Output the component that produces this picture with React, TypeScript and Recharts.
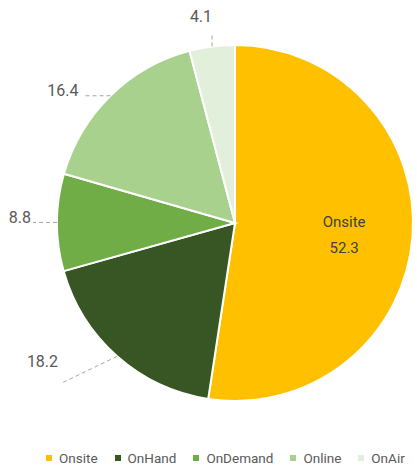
import React from 'react';
import { PieChart, Pie, Cell, Legend } from 'recharts';

const categories = ['Onsite', 'OnHand', 'OnDemand', 'Online', 'OnAir'];
const values = [52.3, 18.2, 8.8, 16.4, 4.1];
const colors = ['#FFC000', '#375623', '#70AD47', '#A9D18E', '#E2EFDA'];

const data = categories.map((name, i) => ({ name, value: values[i] }));

const RADIAN = Math.PI / 180;
const FONT = 'Roboto, "Noto Sans", sans-serif';

// leader line offsets for outside labels (by slice index)
const leaders: Record<number, { dx: number; dy: number; tx: number; ty: number }> = {
  1: { dx: -54, dy: 26, tx: -5, ty: -15 },
  2: { dx: -24, dy: 0, tx: -2, ty: 1 },
  3: { dx: -27, dy: 0, tx: -5, ty: 0 },
  4: { dx: 0, dy: -13, tx: 0, ty: -11 },
};

function renderLabel(props: any) {
  const { cx, cy, midAngle, outerRadius, index, value, name } = props;
  const cos = Math.cos(-midAngle * RADIAN);
  const sin = Math.sin(-midAngle * RADIAN);

  if (index === 0) {
    const r = outerRadius * 0.615;
    const x = cx + r * cos;
    const y = cy + r * sin;
    return (
      <g>
        <text x={x} y={y - 4} textAnchor="middle" fill="#404040" fontSize={15} fontFamily={FONT}>
          {name}
        </text>
        <text x={x} y={y + 22} textAnchor="middle" fill="#404040" fontSize={15} fontFamily={FONT}>
          {value}
        </text>
      </g>
    );
  }

  const l = leaders[index];
  const ex = cx + outerRadius * cos;
  const ey = cy + outerRadius * sin;
  const px = ex + l.dx;
  const py = ey + l.dy;
  return (
    <g>
      <line x1={ex} y1={ey} x2={px} y2={py} stroke="#A6A6A6" strokeWidth={1} strokeDasharray="4 3" />
      <text x={px + l.tx} y={py + l.ty} textAnchor="end" fill="#595959" fontSize={16} fontFamily={FONT}>
        {value}
      </text>
    </g>
  );
}

function LegendContent() {
  return (
    <div style={{ display: 'flex', flexDirection: 'row', whiteSpace: 'nowrap', fontFamily: FONT, fontSize: 13.5, color: '#595959' }}>
      {categories.map((c, i) => (
        <div key={c} style={{ display: 'flex', alignItems: 'center', marginRight: i < categories.length - 1 ? 17 : 0 }}>
          <span style={{ display: 'inline-block', width: 6, height: 6, background: colors[i], marginRight: 7 }} />
          <span>{c}</span>
        </div>
      ))}
    </div>
  );
}

export default function App() {
  return (
    <div style={{ position: 'absolute', left: 0, top: 0, width: 417, height: 465, overflow: 'hidden', background: '#fff' }}>
      <PieChart width={417} height={465} margin={{ top: 0, right: 0, bottom: 0, left: 0 }}>
        <Pie
          data={data}
          dataKey="value"
          nameKey="name"
          cx={235}
          cy={223}
          outerRadius={178}
          startAngle={90}
          endAngle={-270}
          stroke="#ffffff"
          strokeWidth={2}
          label={renderLabel}
          labelLine={false}
          isAnimationActive={false}
        >
          {data.map((d, i) => (
            <Cell key={d.name} fill={colors[i]} />
          ))}
        </Pie>
        <Legend content={<LegendContent />} wrapperStyle={{ left: 46, top: 450, width: 371 }} />
      </PieChart>
    </div>
  );
}
